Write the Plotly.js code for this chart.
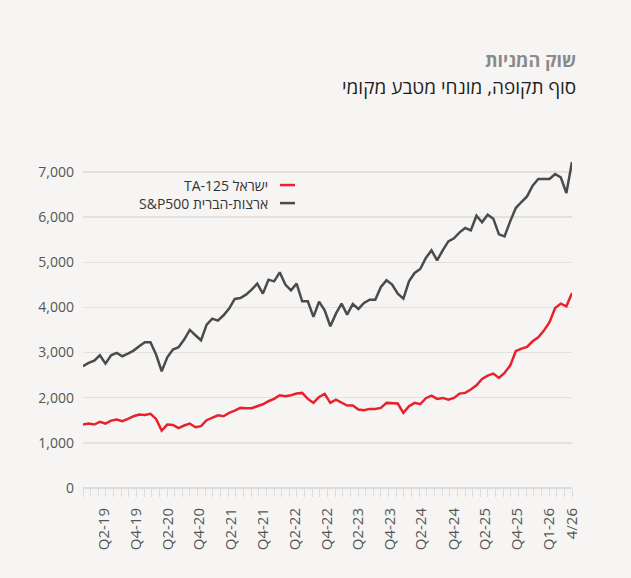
<!DOCTYPE html>
<html>
<head>
<meta charset="utf-8">
<script src="https://cdn.plot.ly/plotly-3.0.1.min.js"></script>
<style>
html,body{margin:0;padding:0;background:#f6f5f3;}
#chart{width:631px;height:578px;}
</style>
</head>
<body>
<div id="chart"></div>
<script>
// Monthly series, Jan 2019 .. Apr 2026 (end of period, local currency)
const ta125 = [1406,1428,1406,1465,1428,1494,1517,1480,1531,1590,1627,1620,1642,1531,1273,1406,1398,1325,1384,1428,1347,1369,1502,1553,1612,1590,1664,1716,1775,1768,1768,1812,1856,1922,
  1974,2055,2033,2055,2092,2107,1974,1886,2018,2085,1886,1959,1886,1827,1827,1738,1723,1753,1753,1775,1886,1871,1871,1664,1812,1886,1856,1989,2048,1974,1996,1959,1996,2092,
  2107,2181,2277,2417,2491,2535,2439,2550,2712,3030,3089,3125,3251,3339,3487,3672,3989,4085,4026,4321];
const sp500 = [2697,2771,2823,2941,2756,2941,2993,2919,2978,3044,3140,3229,3229,2956,2587,2897,3066,3118,3288,3502,3384,3273,3620,3753,3708,3827,3974,4188,4210,4284,4395,4528,4306,4616,
  4579,4779,4506,4380,4528,4137,4137,3790,4129,3937,3583,3863,4085,3841,4077,3967,4100,4173,4173,4454,4601,4506,4306,4196,4579,4764,4852,5096,5266,5044,5266,5465,5531,5664,
  5760,5708,6033,5886,6055,5967,5620,5576,5908,6203,6336,6461,6697,6845,6845,6845,6956,6882,6535,7221];
const tickLabels = ['Q2-19','Q4-19','Q2-20','Q4-20','Q2-21','Q4-21','Q2-22','Q4-22','Q2-23','Q4-23','Q2-24','Q4-24','Q2-25','Q4-25','Q1-26','4/26'];
const tickAt = [3.7,9.5,15.2,20.7,26.4,32.1,37.8,43.4,49.0,54.7,60.2,66.0,71.5,77.3,82.9,87];
const seriesNames = ['TA-125 ישראל','S&P500 ארצות-הברית'];
const titleText = 'שוק המניות';
const subtitleText = 'סוף תקופה, מונחי מטבע מקומי';

const idx = ta125.map((_, i) => i);
const FONT = 'Open Sans, Noto Sans, DejaVu Sans, sans-serif';
const RED = '#e8212b', GRAY = '#4b4b4b';

const traces = [
  {x: idx, y: sp500, type: 'scatter', mode: 'lines', name: seriesNames[1],
   line: {color: GRAY, width: 2.5}, hoverinfo: 'skip'},
  {x: idx, y: ta125, type: 'scatter', mode: 'lines', name: seriesNames[0],
   line: {color: RED, width: 2.5}, hoverinfo: 'skip'}
];

const layout = {
  width: 631, height: 578,
  paper_bgcolor: '#f6f5f3', plot_bgcolor: '#f6f5f3',
  margin: {l: 83, r: 59, t: 154, b: 90},
  showlegend: false,
  font: {family: FONT, color: '#555', size: 14},
  xaxis: {
    range: [0, idx.length - 1], showgrid: false, zeroline: false,
    tickmode: 'array', tickvals: tickAt, ticktext: tickLabels,
    tickangle: -90, ticks: '', ticklabelstandoff: 16,
    tickfont: {size: 15, color: '#555'},
    showline: false,
    minor: {tickmode: 'linear', tick0: 0, dtick: (idx.length - 1) / 64, ticks: 'outside', ticklen: 8, tickcolor: '#dcdcdc', tickwidth: 1, showgrid: false}
  },
  yaxis: {
    range: [0, 7400], tickmode: 'linear', tick0: 0, dtick: 1000,
    tickformat: ',d', gridcolor: '#e2e1df', gridwidth: 1.5,
    zeroline: true, zerolinecolor: '#dcdcdc', zerolinewidth: 1.5,
    ticks: '', ticklabelstandoff: 8, tickfont: {size: 14, color: '#555'}
  },
  shapes: [
    {type: 'line', xref: 'paper', yref: 'paper', x0: 0.4029, x1: 0.4335, y0: 0.907, y1: 0.907, line: {color: RED, width: 2.5}},
    {type: 'line', xref: 'paper', yref: 'paper', x0: 0.4029, x1: 0.4335, y0: 0.853, y1: 0.853, line: {color: GRAY, width: 2.5}}
  ],
  annotations: [
    {text: '<b>' + titleText + '</b>', xref: 'paper', yref: 'paper', x: 1.0123, y: 1.281, xanchor: 'right', yanchor: 'middle', showarrow: false, font: {family: FONT, size: 18, color: '#8a8a8a'}},
    {text: subtitleText, xref: 'paper', yref: 'paper', x: 1.0123, y: 1.2006, xanchor: 'right', yanchor: 'middle', showarrow: false, font: {family: FONT, size: 19, color: '#1f1f1f'}},
    {text: seriesNames[0], xref: 'paper', yref: 'paper', x: 0.3824, y: 0.907, xanchor: 'right', yanchor: 'middle', showarrow: false, font: {family: FONT, size: 14, color: '#333'}},
    {text: seriesNames[1], xref: 'paper', yref: 'paper', x: 0.3824, y: 0.853, xanchor: 'right', yanchor: 'middle', showarrow: false, font: {family: FONT, size: 14, color: '#333'}}
  ]
};

Plotly.newPlot('chart', traces, layout, {staticPlot: true, displayModeBar: false});
</script>
</body>
</html>
